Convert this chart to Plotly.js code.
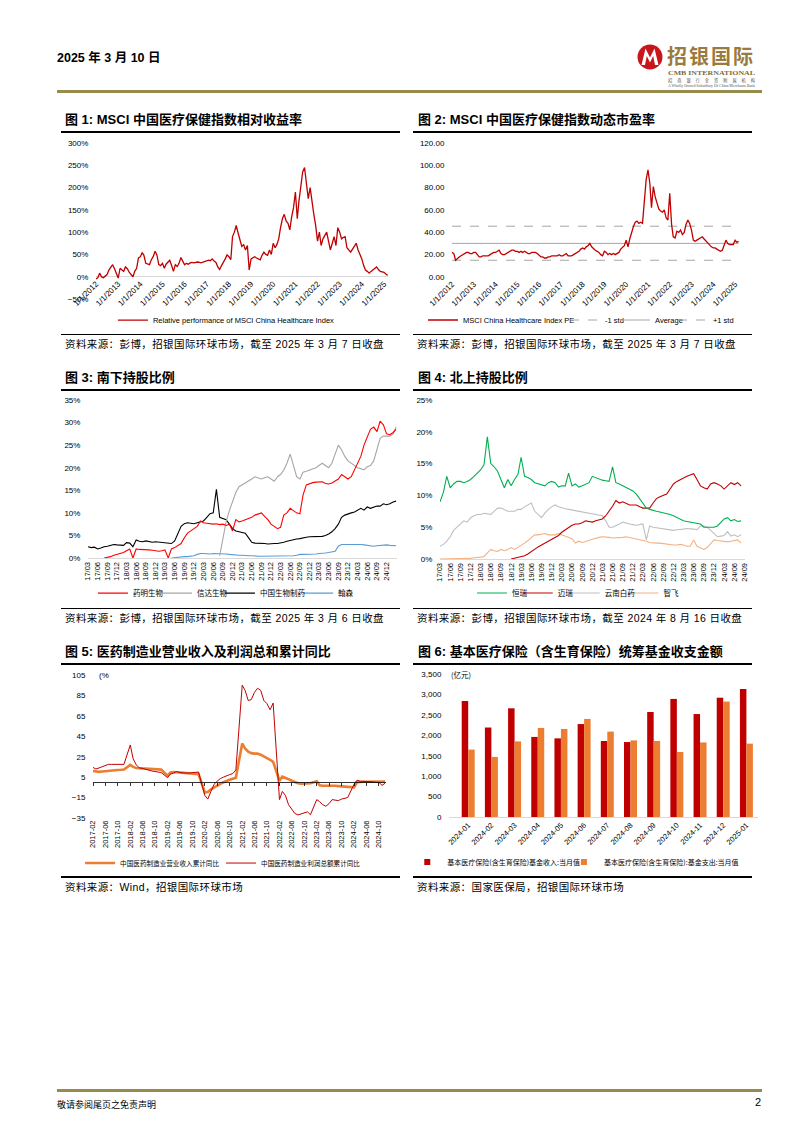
<!DOCTYPE html>
<html><head><meta charset="utf-8">
<script src="https://cdn.plot.ly/plotly-3.0.1.min.js"></script>
<style>
html,body{margin:0;padding:0;background:#fff;}
body{width:793px;height:1122px;position:relative;overflow:hidden;font-family:"Liberation Sans",Arial,"Noto Sans CJK SC",sans-serif;color:#000;}
.abs{position:absolute;}
.title{position:absolute;font-weight:bold;font-size:13px;line-height:16px;white-space:nowrap;font-family:"Liberation Sans",Arial,"Noto Sans CJK SC",sans-serif;}
.rule{position:absolute;background:#000;}
.src{position:absolute;font-size:10.5px;line-height:14px;white-space:nowrap;letter-spacing:0.4px;font-family:"Liberation Sans","Noto Sans CJK SC",sans-serif;}
.gold{position:absolute;background:#978b4d;height:3px;}
.chart{position:absolute;}
</style></head><body>

<div class="abs" style="left:57px;top:47px;font-size:12.5px;font-weight:bold;white-space:nowrap;font-family:'Liberation Sans Narrow','Liberation Sans','Noto Sans CJK SC',sans-serif;">2025 年 3 月 10 日</div>
<svg class="abs" style="left:636px;top:40px" width="130" height="50" viewBox="0 0 130 50">
  <circle cx="14" cy="17" r="12.5" fill="#c8161d"/>
  <path d="M5.5,25 L9.5,8.5 L14,17.5 L18.5,8.5 L22.5,25 L19,25 L17.2,16 L14,22.5 L10.8,16 L9,25 Z" fill="#fff"/>
  <text x="31" y="23.5" font-size="20" font-weight="bold" fill="#9a7b3f" letter-spacing="2" font-family="Noto Sans CJK SC">招银国际</text>
  <text x="32" y="35" font-size="6.8" font-weight="bold" fill="#7d6a3a" font-family="Liberation Serif" textLength="87" lengthAdjust="spacingAndGlyphs">CMB INTERNATIONAL</text>
  <text x="32" y="41.5" font-size="4.2" fill="#555" font-family="Noto Sans CJK SC" textLength="87" lengthAdjust="spacing">招商银行全资附属机构</text>
  <text x="32" y="47" font-size="3.4" fill="#555" font-family="Liberation Serif" textLength="87" lengthAdjust="spacingAndGlyphs">A Wholly Owned Subsidiary Of China Merchants Bank</text>
</svg>
<div class="gold" style="left:57px;top:90px;width:705px;"></div>

<!-- Titles / rules / sources -->
<div class="title" style="left:65px;top:112px;">图 1: MSCI 中国医疗保健指数相对收益率</div>
<div class="rule" style="left:61px;top:130.5px;width:339px;height:2px;"></div>
<div class="rule" style="left:61px;top:333.5px;width:339px;height:1.5px;"></div>
<div class="src" style="left:65px;top:337px;">资料来源：彭博，招银国际环球市场，截至 2025 年 3 月 7 日收盘</div>

<div class="title" style="left:418px;top:112px;">图 2: MSCI 中国医疗保健指数动态市盈率</div>
<div class="rule" style="left:413px;top:130.5px;width:339px;height:2px;"></div>
<div class="rule" style="left:413px;top:333.5px;width:339px;height:1.5px;"></div>
<div class="src" style="left:417px;top:337px;">资料来源：彭博，招银国际环球市场，截至 2025 年 3 月 7 日收盘</div>

<div class="title" style="left:65px;top:370px;">图 3: 南下持股比例</div>
<div class="rule" style="left:61px;top:388.5px;width:339px;height:2px;"></div>
<div class="rule" style="left:61px;top:607.5px;width:339px;height:1.5px;"></div>
<div class="src" style="left:65px;top:611px;">资料来源：彭博，招银国际环球市场，截至 2025 年 3 月 6 日收盘</div>

<div class="title" style="left:418px;top:370px;">图 4: 北上持股比例</div>
<div class="rule" style="left:413px;top:388.5px;width:339px;height:2px;"></div>
<div class="rule" style="left:413px;top:607.5px;width:339px;height:1.5px;"></div>
<div class="src" style="left:417px;top:611px;">资料来源：彭博，招银国际环球市场，截至 2024 年 8 月 16 日收盘</div>

<div class="title" style="left:65px;top:644px;">图 5: 医药制造业营业收入及利润总和累计同比</div>
<div class="rule" style="left:61px;top:662.5px;width:339px;height:2px;"></div>
<div class="rule" style="left:61px;top:876px;width:339px;height:1.5px;"></div>
<div class="src" style="left:65px;top:880px;">资料来源：Wind，招银国际环球市场</div>

<div class="title" style="left:418px;top:644px;">图 6: 基本医疗保险（含生育保险）统筹基金收支金额</div>
<div class="rule" style="left:413px;top:662.5px;width:339px;height:2px;"></div>
<div class="rule" style="left:413px;top:876px;width:339px;height:1.5px;"></div>
<div class="src" style="left:417px;top:880px;">资料来源：国家医保局，招银国际环球市场</div>

<div class="chart" id="c1" style="left:57px;top:133px;width:343px;height:200px;"></div>
<div class="chart" id="c2" style="left:410px;top:133px;width:342px;height:200px;"></div>
<div class="chart" id="c3" style="left:57px;top:391px;width:343px;height:216px;"></div>
<div class="chart" id="c4" style="left:410px;top:391px;width:342px;height:216px;"></div>
<div class="chart" id="c5" style="left:57px;top:665px;width:343px;height:211px;"></div>
<div class="chart" id="c6" style="left:400px;top:665px;width:393px;height:211px;"></div>

<div class="gold" style="left:57px;top:1089px;width:705px;"></div>
<div class="abs" style="left:57px;top:1098px;font-size:9px;white-space:nowrap;font-family:'Noto Sans CJK SC',sans-serif;">敬请参阅尾页之免责声明</div>
<div class="abs" style="left:748px;top:1096px;width:13px;text-align:right;font-size:11px;">2</div>

<script>
// ---------------- DATA ----------------
// Chart 1: MSCI China Healthcare relative performance (%), monthly from 2012-01
const c1Rel = [].concat(
 [-5,-2,8,0,-2,2,5,15,22,27,18,8],
 [-3,19,15,12,22,18,10,5,0,12,19,42],
 [45,54,48,30,28,27,38,45,57,49,27,25],
 [30,19,28,34,37,25,12,27,23,30,43,35],
 [27,30,28,31,32,31,32,33,32,31,33,34],
 [35,37,36,40,35,32,22,16,25,31,40,49],
 [45,38,90,100,115,98,85,68,72,60,70,15],
 [40,42,45,42,40,38,48,55,50,48,60,50],
 [75,65,72,85,110,130,140,125,120,105,135,155],
 [190,130,170,200,235,245,210,175,200,165,140,115],
 [80,100,70,85,92,100,80,60,75,90,70,110],
 [100,85,88,90,65,60,55,62,70,75,60,50],
 [40,25,15,12,8,12,15,20,22,16,12,11],
 [10,6,3]
);
const c1Ticks = ['1/1/2012','1/1/2013','1/1/2014','1/1/2015','1/1/2016','1/1/2017','1/1/2018','1/1/2019','1/1/2020','1/1/2021','1/1/2022','1/1/2023','1/1/2024','1/1/2025'];

// Chart 2: forward PE, monthly from 2012-01
const c2PE = [].concat(
 [22,21,15,17,18,19,20,21,22,22,21,21],
 [22,22,20,18,18,19,19,19,19,20,21,22],
 [22,23,24,21,20,20,21,22,23,24,24,23],
 [23,22,23,22,23,22,21,21,22,22,22,21],
 [19,18,18,17,17,18,18,19,19,19,19,20],
 [19,19,20,21,19,19,19,20,21,22,23,25],
 [26,25,27,28,30,27,25,24,23,22,20,19],
 [23,22,20,21,20,21,20,21,22,25,27,28],
 [33,27,34,40,45,49,50,48,49,48,70,87],
 [96,84,62,81,72,66,61,59,58,60,53,51],
 [75,47,36,35,41,40,42,38,40,47,51,48],
 [42,33,32,33,34,35,36,34,32,30,28,27],
 [26,26,25,24,23,24,28,33,30,29,29,29],
 [33,31,32]
);
const c2Avg = 30.1, c2Minus1 = 15.0, c2Plus1 = 45.5;
const c2Names = ['MSCI China Healthcare Index PE','-1 std','Average','+1 std'];

// Chart 3: southbound holdings (%), monthly 2017-03 .. 2025-03
const c3WuXi = [].concat(
 [null,null,null,null,null,0,0.1,0.3,0.6,0.8],
 [1.0,1.2,1.6,2.0,0,2.0,1.9,1.9,1.8,1.8,1.7,1.6],
 [1.5,1.6,1.8,0,2.0,2.3,2.8,3.2,4.5,5.5,6.0,6.5],
 [7.0,8.2,7.8,7.7,7.6,7.5,7.6,7.4,7.5,7.2,7.5,6.0],
 [8.5,8.0,8.2,8.5,8.8,9.0,9.5,9.8,10.0,9.2,8.5,7.5],
 [7.0,6.5,6.8,9.5,10.0,11.0,10.5,10.0,9.8,14.0,16.2,16.5],
 [16.7,16.8,16.8,16.9,16.5,16.4,16.6,17.0,17.5,18.5,18.0,17.5],
 [18.0,19.5,21.0,22.5,25.0,27.0,28.5,29.0,28.0,30.3,29.5,27.5],
 [27.3,27.8,28.5]
);
const c3Innovent = [].concat(
 [null,null,null,null,null,null,null,null,null,null],
 [null,null,null,null,null,null,null,null,null,null,null,null],
 [null,null,null,null,null,null,null,null,null,null,null,null],
 [null,null,null,null,null,null,null,0.5,4.0,8.0,10.5,12.5],
 [14.5,15.8,16.2,16.5,17.0,17.5,18.0,17.8,17.5,17.8,18.0,17.5],
 [17.0,18.0,18.5,19.5,21.0,23.0,20.5,18.0,17.5,19.0,19.2,19.5],
 [19.8,20.0,20.5,21.0,20.5,20.0,21.0,23.0,25.0,24.0,22.5,21.5],
 [21.0,20.5,20.0,19.8,19.5,20.2,20.5,21.5,24.0,26.5,27.0,27.0],
 [27.0,27.5,29.0]
);
const c3SinoBio = [].concat(
 [2.5,2.3,2.4,2.0,2.2,2.5,2.6,2.8,3.0,2.9],
 [2.8,2.8,3.4,3.3,2.5,4.0,3.7,3.6,3.8,3.7,3.5,3.6],
 [3.5,3.4,3.3,3.2,3.2,3.8,5.5,7.0,7.6,7.8,7.7,7.6],
 [7.8,8.0,8.2,9.0,9.8,10.0,15.2,9.0,8.8,8.5,7.5,6.5],
 [6.0,5.8,5.6,5.5,4.5,3.5,3.3,3.3,3.2,3.2,3.1,3.2],
 [3.2,3.2,3.3,3.5,3.7,3.9,4.0,4.2,4.3,4.5,4.6,4.7],
 [4.7,4.7,4.7,4.8,5.0,5.3,5.8,6.5,7.5,9.0,9.5,9.8],
 [10.0,10.2,10.5,11.0,10.6,11.3,11.0,11.2,11.5,11.5,12.0,11.8],
 [12.0,12.4,12.6]
);
const c3Hansoh = [].concat(
 [null,null,null,null,null,null,null,null,null,null],
 [null,null,null,null,null,null,null,null,null,null,null,null],
 [null,null,null,null,0.0,0.1,0.2,0.2,0.3,0.3,0.4,0.5],
 [0.8,1.0,1.0,0.9,0.9,1.0,1.0,1.0,0.9,0.9,0.8,0.7],
 [0.7,0.6,0.6,0.5,0.5,0.5,0.4,0.4,0.4,0.4,0.4,0.4],
 [0.4,0.4,0.4,0.4,0.5,0.5,0.5,0.6,0.8,0.8,0.8,0.9],
 [0.9,0.9,1.0,1.0,1.1,1.2,1.3,1.5,2.6,3.0,3.0,3.0],
 [3.0,3.1,3.1,3.0,2.9,2.8,2.7,2.6,2.7,2.8,2.9,2.9],
 [2.8,2.8,2.7]
);
const c3Names = ['药明生物','信达生物','中国生物制药','翰森'];
const c3Ticks = ['17/03','17/06','17/09','17/12','18/03','18/06','18/09','18/12','19/03','19/06','19/09','19/12','20/03','20/06','20/09','20/12','21/03','21/06','21/09','21/12','22/03','22/06','22/09','22/12','23/03','23/06','23/09','23/12','24/03','24/06','24/09','24/12'];

// Chart 4: northbound holdings (%), monthly 2017-03 .. 2024-08
const c4Hengrui = [].concat(
 [9.0,10.5,13.0,11.2,11.8,12.2,12.2,12.0,12.2,12.5],
 [13.0,13.5,14.0,14.8,19.2,15.0,14.5,13.8,12.5,11.2,12.5,11.5],
 [12.5,13.3,16.0,13.0,12.8,12.5,12.0,11.8,11.7,11.5,12.0,12.2],
 [12.0,11.3,11.5,11.5,13.5,11.5,11.8,11.3,11.5,11.8,12.0,13.0],
 [12.8,12.5,12.4,12.3,12.2,14.5,12.0,11.8,11.5,11.2,11.0,10.7],
 [10.2,9.5,8.8,8.0,7.8,7.6,7.5,7.4,7.3,7.2,7.0,6.8],
 [6.5,6.2,6.0,5.9,5.8,5.7,5.6,5.5,5.0,5.0,4.9,5.0],
 [5.2,5.8,6.3,6.5,6.0,6.2,5.9,6.0]
);
const c4Mindray = [].concat(
 [null,null,null,null,null,null,null,null,null,null],
 [null,null,null,null,null,null,null,null,null,null,null,0.0],
 [0.1,0.3,0.4,0.5,0.8,1.2,1.5,1.9,2.2,2.5,2.8,3.0],
 [3.3,3.7,4.2,4.6,5.0,5.3,5.5,5.5,5.7,6.0,5.9,5.8],
 [6.0,6.1,6.3,6.8,7.5,8.3,9.2,8.8,9.0,8.8,8.5,8.5],
 [8.5,8.2,8.0,8.0,8.0,8.8,9.5,9.8,10.0,10.2,11.0,11.8],
 [12.2,12.5,12.8,13.0,13.2,13.4,12.5,11.5,11.2,11.0,11.8,12.0],
 [11.8,11.5,11.0,11.5,12.0,11.7,12.0,11.5]
);
const c4Yunnan = [].concat(
 [2.0,2.3,2.8,3.5,4.5,5.0,5.6,6.0,5.8,6.5],
 [6.8,7.0,7.0,7.2,7.1,7.0,7.5,8.0,8.0,7.8,7.5,7.5],
 [7.5,7.8,7.8,8.2,8.5,8.8,7.5,7.0,6.5,7.2,7.8,8.2],
 [8.5,8.2,8.0,7.9,7.8,7.7,7.6,7.5,7.5,7.4,7.3,7.2],
 [7.1,7.0,6.8,6.0,5.0,5.0,5.2,5.5,5.8,5.6,5.5,5.4],
 [5.3,5.4,5.5,3.0,5.2,5.0,4.9,4.8,4.7,4.6,4.5,4.5],
 [4.6,4.6,4.7,4.8,4.8,4.7,4.6,5.2,5.2,5.0,4.5,4.0],
 [3.5,3.6,3.7,4.3,3.6,3.8,3.5,3.8]
);
const c4Zhifei = [].concat(
 [0.0,0.0,0.1,0.1,0.1,0.1,0.1,0.1,0.1,0.1],
 [0.2,0.2,0.3,0.4,1.0,1.5,1.3,1.2,1.5,1.3,1.5,1.8],
 [1.5,1.8,2.2,2.5,2.9,3.3,3.8,3.8,3.9,4.0,3.8,3.8],
 [3.8,4.0,3.8,3.6,3.5,3.2,2.5,2.8,2.6,2.7,2.9,3.1],
 [3.3,3.4,3.5,3.5,3.4,3.3,3.3,3.3,3.4,3.5,3.4,3.3],
 [3.2,3.0,2.9,2.8,2.6,2.5,2.5,2.5,2.4,2.3,2.2,2.2],
 [2.2,2.3,2.2,2.0,2.0,3.0,2.0,1.8,1.5,1.8,2.4,3.0],
 [2.9,2.8,2.7,2.7,2.8,2.9,3.0,2.5]
);
const c4Names = ['恒瑞','迈瑞','云南白药','智飞'];
const c4Ticks = ['17/03','17/06','17/09','17/12','18/03','18/06','18/09','18/12','19/03','19/06','19/09','19/12','20/03','20/06','20/09','20/12','21/03','21/06','21/09','21/12','22/03','22/06','22/09','22/12','23/03','23/06','23/09','23/12','24/03','24/06','24/09'];

// Chart 5: cumulative YoY (%), Feb..Dec of each year 2017..2024
const c5Years = [2017,2018,2019,2020,2021,2022,2023,2024];
const c5Revenue = [].concat(
 [11.0,10.5,10.2,10.6,11.0,11.2,11.5,11.8,12.0,12.2,12.5],
 [17.0,15.0,14.0,13.5,13.6,13.5,13.4,13.3,13.2,12.8,12.4],
 [6.5,9.5,10.0,9.8,9.5,9.2,9.0,9.0,8.8,8.5,8.0],
 [-10.0,-9.5,-7.0,-5.0,-3.0,-1.5,0.0,1.5,2.5,3.5,4.5],
 [38.0,33.0,30.0,28.5,28.0,28.0,27.0,25.5,24.0,22.0,20.0],
 [1.5,5.5,4.5,3.0,1.5,0.0,-1.0,-1.5,-1.5,-1.5,-1.0],
 [1.0,-3.0,-3.5,-3.5,-3.0,-3.5,-3.5,-3.8,-4.0,-4.0,-4.2],
 [-5.0,0.0,0.5,0.5,0.5,0.5,0.8,0.8,1.0,1.0,0.8]
);
const c5Profit = [].concat(
 [14.5,13.0,14.0,15.0,16.0,17.5,17.5,17.5,17.5,17.5,17.5],
 [36.5,23.0,17.0,14.0,13.5,12.5,11.5,11.0,10.5,10.0,9.5],
 [4.5,8.0,9.0,10.5,9.5,9.0,9.0,9.0,9.5,10.0,10.0],
 [-13.0,-16.5,-9.0,-2.0,1.0,3.5,5.0,6.5,7.5,8.5,12.0],
 [95.0,90.0,80.0,81.0,88.0,92.0,90.0,80.0,77.0,71.0,77.5],
 [-17.0,-9.0,-13.0,-22.0,-27.0,-30.5,-32.0,-31.0,-29.5,-29.0,-31.8],
 [-17.0,-19.0,-22.0,-23.5,-21.0,-17.0,-17.5,-18.0,-16.5,-16.0,-15.0],
 [-2.0,2.0,1.0,1.0,0.5,0.5,0.5,0.0,0.0,-3.0,-1.0]
);
const c5Names = ['中国医药制造业营业收入累计同比','中国医药制造业利润总额累计同比'];
const c5Ticks = ['2017-02','2017-06','2017-10','2018-02','2018-06','2018-10','2019-02','2019-06','2019-10','2020-02','2020-06','2020-10','2021-02','2021-06','2021-10','2022-02','2022-06','2022-10','2023-02','2023-06','2023-10','2024-02','2024-06','2024-10'];

// Chart 6: basic medical insurance fund (100m RMB)
const c6Months = ['2024-01','2024-02','2024-03','2024-04','2024-05','2024-06','2024-07','2024-08','2024-09','2024-10','2024-11','2024-12','2025-01'];
const c6Income = [2840,2190,2660,1960,1925,2275,1860,1835,2570,2890,2520,2920,3135];
const c6Expense = [1650,1470,1850,2180,2155,2400,2090,1875,1860,1590,1825,2825,1795];
const c6Names = ['基本医疗保险(含生育保险)基金收入:当月值','基本医疗保险(含生育保险):基金支出:当月值'];

// ---------------- HELPERS ----------------
function monthSeq(y0, m0, n){
  const a=[];
  for(let i=0;i<n;i++){const t=(m0-1)+i;const y=y0+Math.floor(t/12),m=t%12+1;a.push(y+'-'+(m<10?'0':'')+m+'-01');}
  return a;
}
const SANS='"Liberation Sans", Arial, "Noto Sans CJK SC", sans-serif';
const CJK='"Noto Sans CJK SC", "Liberation Sans", sans-serif';
const TR='rgba(0,0,0,0)';
function base(w,h,l,r,t,b){
  return {width:w,height:h,margin:{l:l,r:r,t:t,b:b,autoexpand:false},paper_bgcolor:TR,plot_bgcolor:TR,
    font:{family:SANS,size:8,color:'#000'},showlegend:true};
}
function leg(x,y,size,fam){
  return {orientation:'h',x:x,xanchor:'left',y:y,yanchor:'middle',bgcolor:TR,borderwidth:0,itemwidth:30,
    font:{family:fam,size:size,color:'#000'}};
}
function yax(o){return Object.assign({showgrid:false,zeroline:false,showline:false,ticks:'outside',ticklen:5,tickcolor:TR,tickfont:{size:8}},o);}
const cfg={staticPlot:true,displayModeBar:false};

// ---------------- CHART 1 ----------------
const c1Dates = monthSeq(2012,1,c1Rel.length);
const c1TickVals = c1Ticks.map(t=>t.split('/')[2]+'-01-01');
(function(){
  const L=base(343,200,39,12,10,34);
  L.xaxis={type:'date',range:['2012-01-01','2025-03-08'],tickmode:'array',tickvals:c1TickVals,ticktext:c1Ticks,tickangle:-45,
    showgrid:false,zeroline:false,showline:false,ticks:'',anchor:'free',position:50/350,tickfont:{size:8}};
  L.yaxis=yax({range:[-50,300],tick0:0,dtick:50,ticksuffix:'%',zeroline:true,zerolinecolor:'#d9d9d9',zerolinewidth:1});
  L.legend=leg(0.058,-0.135,7.5,SANS);
  Plotly.newPlot('c1',[{x:c1Dates,y:c1Rel,type:'scatter',mode:'lines',line:{color:'#c00000',width:1.3},name:'Relative performance of MSCI China Healthcare Index',legend:'legend'}],L,cfg);
})();

// ---------------- CHART 2 ----------------
(function(){
  const d=monthSeq(2012,1,c2PE.length);
  const span=[d[0],d[d.length-1]];
  const L=base(342,200,42,13,10,56);
  L.xaxis={type:'date',range:['2012-01-01','2025-03-08'],tickmode:'array',tickvals:c1TickVals,ticktext:c1Ticks,tickangle:-45,
    showgrid:false,zeroline:false,showline:false,ticks:'',tickfont:{size:8}};
  L.yaxis=yax({range:[0,120],tick0:0,dtick:20,tickformat:'.2f'});
  L.legend=leg(-0.101,-0.321,7.5,SANS);
  L.legend2=leg(0.394,-0.321,7.5,SANS);
  L.legend3=leg(0.568,-0.321,7.5,SANS);
  L.legend4=leg(0.770,-0.321,7.5,SANS);
  Plotly.newPlot('c2',[
    {x:span,y:[c2Minus1,c2Minus1],type:'scatter',mode:'lines',line:{color:'#a6a6a6',width:1,dash:'dash'},name:c2Names[1],legend:'legend2'},
    {x:span,y:[c2Avg,c2Avg],type:'scatter',mode:'lines',line:{color:'#a6a6a6',width:1},name:c2Names[2],legend:'legend3'},
    {x:span,y:[c2Plus1,c2Plus1],type:'scatter',mode:'lines',line:{color:'#a6a6a6',width:1,dash:'dash'},name:c2Names[3],legend:'legend4'},
    {x:d,y:c2PE,type:'scatter',mode:'lines',line:{color:'#c00000',width:1.3},name:c2Names[0],legend:'legend'}
  ],L,cfg);
})();

// ---------------- CHART 3 ----------------
(function(){
  const d=monthSeq(2017,3,c3WuXi.length);
  const tv=c3Ticks.map(t=>'20'+t.slice(0,2)+'-'+t.slice(3)+'-01');
  const L=base(343,216,31,3,9,49);
  L.xaxis={type:'date',range:['2017-03-01','2025-03-10'],tickmode:'array',tickvals:tv,ticktext:c3Ticks,tickangle:-90,
    showgrid:false,zeroline:false,showline:true,linecolor:'#d9d9d9',linewidth:1,ticks:'',tickfont:{size:7.5}};
  L.yaxis=yax({range:[0,35],tick0:0,dtick:5,ticksuffix:'%'});
  const ys=-0.222, fs=7.5;
  L.legend=leg(0.016,ys,fs,CJK); L.legend2=leg(0.223,ys,fs,CJK); L.legend3=leg(0.427,ys,fs,CJK); L.legend4=leg(0.680,ys,fs,CJK);
  Plotly.newPlot('c3',[
    {x:d,y:c3Hansoh,type:'scatter',mode:'lines',line:{color:'#5b9bd5',width:1.1},name:c3Names[3],legend:'legend4'},
    {x:d,y:c3SinoBio,type:'scatter',mode:'lines',line:{color:'#000000',width:1.1},name:c3Names[2],legend:'legend3'},
    {x:d,y:c3Innovent,type:'scatter',mode:'lines',line:{color:'#a6a6a6',width:1.1},name:c3Names[1],legend:'legend2'},
    {x:d,y:c3WuXi,type:'scatter',mode:'lines',line:{color:'#ff0000',width:1.1},name:c3Names[0],legend:'legend'}
  ],L,cfg);
})();

// ---------------- CHART 4 ----------------
(function(){
  const d=monthSeq(2017,3,c4Hengrui.length);
  const tv=c4Ticks.map(t=>'20'+t.slice(0,2)+'-'+t.slice(3)+'-01');
  const L=base(342,216,30,6.5,9,48);
  L.xaxis={type:'date',range:['2017-03-01','2024-09-05'],tickmode:'array',tickvals:tv,ticktext:c4Ticks,tickangle:-90,
    showgrid:false,zeroline:false,showline:true,linecolor:'#d9d9d9',linewidth:1,ticks:'',tickfont:{size:7.5}};
  L.yaxis=yax({range:[0,25],tick0:0,dtick:5,ticksuffix:'%'});
  const ys=-0.214, fs=7.5;
  L.legend=leg(0.105,ys,fs,CJK); L.legend2=leg(0.255,ys,fs,CJK); L.legend3=leg(0.409,ys,fs,CJK); L.legend4=leg(0.602,ys,fs,CJK);
  Plotly.newPlot('c4',[
    {x:d,y:c4Zhifei,type:'scatter',mode:'lines',line:{color:'#f4b183',width:1.1},name:c4Names[3],legend:'legend4'},
    {x:d,y:c4Yunnan,type:'scatter',mode:'lines',line:{color:'#bfbfbf',width:1.1},name:c4Names[2],legend:'legend3'},
    {x:d,y:c4Mindray,type:'scatter',mode:'lines',line:{color:'#c00000',width:1.1},name:c4Names[1],legend:'legend2'},
    {x:d,y:c4Hengrui,type:'scatter',mode:'lines',line:{color:'#00b050',width:1.1},name:c4Names[0],legend:'legend'}
  ],L,cfg);
})();

// ---------------- CHART 5 ----------------
(function(){
  const d=[];
  c5Years.forEach(y=>{for(let m=2;m<=12;m++){d.push(y+'-'+(m<10?'0':'')+m+'-01');}});
  const tv=c5Ticks.map(t=>t+'-01');
  const rng=['2017-02-01','2024-12-10'];
  const L=base(343,211,36,14.3,10,58);
  L.xaxis={type:'date',range:rng,tickmode:'array',tickvals:tv,ticktext:c5Ticks,tickangle:-90,
    showgrid:false,zeroline:false,showline:false,ticks:'',tickfont:{size:7.5}};
  L.xaxis2={type:'date',range:rng,overlaying:'x',anchor:'free',position:35/140,tickmode:'array',tickvals:tv,
    showticklabels:false,ticks:'outside',ticklen:3,tickcolor:'#000',tickwidth:0.8,showline:true,linecolor:'#000',linewidth:0.8,showgrid:false,zeroline:false};
  L.yaxis=yax({range:[-35,105],tick0:-35,dtick:20});
  L.legend=leg(-0.044,-0.315,6.6,CJK); L.legend2=leg(0.437,-0.315,6.6,CJK);
  L.annotations=[{xref:'paper',yref:'paper',x:0.014,y:1,xanchor:'left',yanchor:'middle',text:'(%',showarrow:false,font:{size:8,family:SANS,color:'#000'}}];
  Plotly.newPlot('c5',[
    {x:[d[0]],y:[null],xaxis:'x2',yaxis:'y',type:'scatter',mode:'lines',showlegend:false,hoverinfo:'skip'},
    {x:d,y:c5Revenue,type:'scatter',mode:'lines',line:{color:'#ed7d31',width:2.6},name:c5Names[0],legend:'legend'},
    {x:d,y:c5Profit,type:'scatter',mode:'lines',line:{color:'#c00000',width:1},name:c5Names[1],legend:'legend2'}
  ],L,cfg);
})();

// ---------------- CHART 6 ----------------
(function(){
  const L=base(393,211,49,35,9,59);
  L.barmode='group'; L.bargap=0.44; L.bargroupgap=0;
  L.xaxis={type:'category',tickangle:-45,showgrid:false,zeroline:false,showline:true,linecolor:'#d9d9d9',linewidth:1,ticks:'',tickfont:{size:7.5}};
  L.yaxis=yax({range:[0,3500],tick0:0,dtick:500,tickformat:','});
  L.legend=leg(-0.135,-0.315,7,CJK); L.legend2=leg(0.372,-0.315,7,CJK);
  L.annotations=[{xref:'paper',yref:'paper',x:0,y:1,xanchor:'left',yanchor:'middle',text:'(亿元)',showarrow:false,font:{size:7.5,family:CJK,color:'#000'}}];
  Plotly.newPlot('c6',[
    {x:c6Months,y:c6Income,type:'bar',marker:{color:'#c00000'},name:c6Names[0],showlegend:false},
    {x:c6Months,y:c6Expense,type:'bar',marker:{color:'#ed7d31'},name:c6Names[1],showlegend:false},
    {x:[c6Months[0]],y:[null],type:'scatter',mode:'markers',marker:{symbol:'square',size:6,color:'#c00000'},name:c6Names[0],legend:'legend',hoverinfo:'skip'},
    {x:[c6Months[0]],y:[null],type:'scatter',mode:'markers',marker:{symbol:'square',size:6,color:'#ed7d31'},name:c6Names[1],legend:'legend2',hoverinfo:'skip'}
  ],L,cfg);
})();
</script>
</body></html>
